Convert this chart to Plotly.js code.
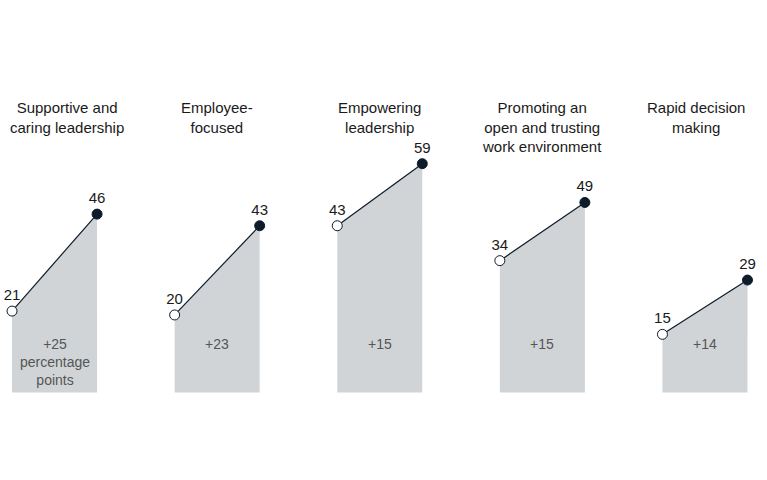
<!DOCTYPE html>
<html>
<head>
<meta charset="utf-8">
<script src="https://cdn.plot.ly/plotly-3.0.1.min.js"></script>
<style>
  html, body { margin: 0; padding: 0; background: #fff; }
  #chart { width: 767px; height: 480px; }
</style>
</head>
<body>
<div id="chart"></div>
<script>
// --- data ---
const titles = [
    "Supportive and<br>caring leadership",
    "Employee-<br>focused",
    "Empowering<br>leadership",
    "Promoting an<br>open and trusting<br>work environment",
    "Rapid decision<br>making"
];
const startVals = [21, 20, 43, 34, 15];
const endVals = [46, 43, 59, 49, 29];
const deltaLabels = ["+25<br>percentage<br>points", "+23", "+15", "+15", "+14"];

// --- style ---
const FONT = "Liberation Sans, Arial, sans-serif";
const DARK = "#0d1b2a";
const GREY = "#d0d4d6";
const PANEL_W = 0.523;          // panel width in slot units
const titleShift = [12, 0, 0, 0, -9];

const traces = [];
const annotations = [];

titles.forEach((t, i) => {
    const x0 = i, x1 = i + PANEL_W;

    // gray area under the line
    traces.push({
        x: [x0, x0, x1, x1], y: [0, startVals[i], endVals[i], 0],
        type: "scatter", mode: "lines", fill: "toself",
        fillcolor: GREY, line: { width: 0 }, hoverinfo: "skip"
    });

    // line + markers + value labels
    traces.push({
        x: [x0, x1], y: [startVals[i], endVals[i]],
        type: "scatter", mode: "lines+markers+text",
        line: { color: DARK, width: 1.2 },
        marker: { size: 10, color: ["#ffffff", DARK], line: { color: DARK, width: 1 } },
        text: [String(startVals[i]), String(endVals[i])],
        textposition: "top center",
        textfont: { family: FONT, size: 15, color: "#1a1a1a" },
        cliponaxis: false
    });

    // title over each panel
    annotations.push({
        text: t, xref: "x", yref: "paper",
        x: i + PANEL_W / 2, y: 1 - 97 / 480,
        xanchor: "center", yanchor: "top", xshift: titleShift[i],
        showarrow: false, align: "center",
        font: { family: FONT, size: 15, color: "#1a1a1a" }
    });

    // change label inside the area
    annotations.push({
        text: deltaLabels[i], xref: "x", yref: "paper",
        x: i + PANEL_W / 2, y: 1 - 334 / 480,
        xanchor: "center", yanchor: "top",
        showarrow: false, align: "center",
        font: { family: FONT, size: 14, color: "#555555" }
    });
});

const layout = {
    width: 767, height: 480,
    margin: { l: 0, r: 0, t: 0, b: 0 },
    paper_bgcolor: "#ffffff", plot_bgcolor: "#ffffff",
    showlegend: false,
    xaxis: { range: [-0.074, 4.643], visible: false, fixedrange: true },
    yaxis: { range: [-22.55, 101.2], visible: false, fixedrange: true },
    annotations: annotations
};

Plotly.newPlot("chart", traces, layout, { displayModeBar: false, staticPlot: true });
</script>
</body>
</html>
